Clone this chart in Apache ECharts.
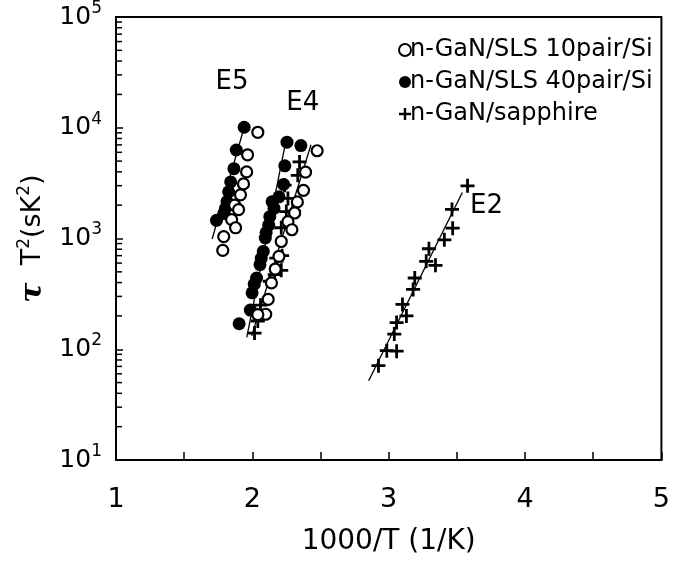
<!DOCTYPE html>
<html>
<head>
<meta charset="utf-8">
<script src="https://cdn.jsdelivr.net/npm/echarts@6/dist/echarts.min.js"></script>
<style>
  html, body { margin: 0; padding: 0; background: #fff; }
  #main { width: 673px; height: 565px; }
</style>
</head>
<body>
<div id="main"></div>
<script>
// data: [1000/T, tau*T^2]
const open10pair = [
  [2.04, 9100], [1.965, 5700], [1.958, 3990], [1.935, 3110], [1.913, 2480],
  [1.87, 2000], [1.899, 1820], [1.848, 1480], [1.877, 1250], [1.79, 1040], [1.783, 780],
  [2.475, 6200], [2.39, 3970], [2.375, 2720], [2.33, 2140], [2.31, 1700],
  [2.261, 1420], [2.29, 1200], [2.212, 940], [2.195, 690], [2.168, 530],
  [2.14, 397], [2.116, 282], [2.098, 207], [2.04, 205]
];
const filled40pair = [
  [1.94, 10100], [1.882, 6300], [1.865, 4270], [1.841, 3240], [1.826, 2640],
  [1.814, 2150], [1.802, 1860], [1.79, 1680], [1.737, 1460],
  [2.254, 7410], [2.356, 6900], [2.238, 4530], [2.229, 3080], [2.195, 2380],
  [2.145, 2150], [2.159, 1870], [2.128, 1575], [2.12, 1320], [2.101, 1130],
  [2.095, 1010], [2.08, 764], [2.065, 662], [2.056, 581], [2.031, 440],
  [2.014, 387], [1.998, 323], [1.985, 226], [1.903, 170]
];
const sapphire = [
  [2.016, 140], [2.04, 180], [2.06, 250], [2.128, 411], [2.164, 472],
  [2.212, 516], [2.176, 665], [2.218, 700], [2.212, 1250], [2.249, 1750],
  [2.306, 1770], [2.261, 2300], [2.237, 3030], [2.333, 3720], [2.346, 4910],
  [3.578, 2990], [3.464, 1830], [3.469, 1240], [3.408, 972], [3.295, 808],
  [3.275, 622], [3.343, 573], [3.191, 440], [3.179, 347], [3.101, 254],
  [3.13, 200], [3.058, 174], [3.041, 137], [2.986, 97], [3.058, 96], [2.925, 71]
];
const fitLines = [
  [[1.705, 990], [1.94, 10100]],
  [[1.959, 128], [2.249, 7950]],
  [[1.995, 132], [2.43, 7020]],
  [[2.853, 52], [3.54, 2600]]
];
const peakNames = ['E5', 'E4', 'E2'];
const peakLabelPos = [[1.851, 25600], [2.37, 16600], [3.717, 1940]];
const seriesNames = ['n-GaN/SLS 10pair/Si', 'n-GaN/SLS 40pair/Si', 'n-GaN/sapphire'];

const FONT = 'DejaVu Sans';
const plusPath = 'path://M4,0h2v4h4v2h-4v4h-2v-4h-4v-2h4z';

// minor log ticks on the left axis (2..9 of each decade)
const minorTicks = [];
for (let k = 1; k < 5; k++) {
  for (let m = 2; m < 10; m++) minorTicks.push([1, m * Math.pow(10, k)]);
}

const chart = echarts.init(document.getElementById('main'));

const series = [
  {
    name: 'minorTicks', type: 'scatter', silent: true, data: minorTicks,
    symbol: 'rect', symbolSize: [6, 1.5], symbolOffset: [3, 0],
    itemStyle: { color: '#000', opacity: 1 }, z: 1
  }
];
fitLines.forEach((pts, i) => {
  series.push({
    name: 'fit' + i, type: 'line', data: pts, symbol: 'none', silent: true,
    lineStyle: { color: '#000', width: 1.3 }, z: 2
  });
});
series.push(
  {
    name: seriesNames[2], type: 'scatter', data: sapphire,
    symbol: plusPath, symbolSize: 14, itemStyle: { color: '#000', opacity: 1 }, z: 3
  },
  {
    name: seriesNames[1], type: 'scatter', data: filled40pair,
    symbol: 'circle', symbolSize: 13, itemStyle: { color: '#000', opacity: 1 }, z: 4
  },
  {
    name: seriesNames[0], type: 'scatter', data: open10pair,
    symbol: 'circle', symbolSize: 11,
    itemStyle: { color: '#fff', borderColor: '#000', borderWidth: 2.2, opacity: 1 }, z: 5
  },
  {
    name: 'peaks', type: 'scatter', silent: true, symbolSize: 0,
    itemStyle: { opacity: 1 },
    data: peakLabelPos.map((p, i) => ({ value: p, name: peakNames[i] })),
    label: {
      show: true, position: 'inside', formatter: '{b}',
      fontFamily: FONT, fontSize: 26, color: '#000'
    }, z: 6
  }
);

chart.setOption({
  backgroundColor: '#fff',
  animation: false,
  textStyle: { fontFamily: FONT },
  grid: {
    left: 116, right: 5, top: 14, bottom: 105,
    show: true, borderColor: '#000', borderWidth: 2
  },
  legend: {
    data: seriesNames,
    orient: 'vertical', left: 393, top: 33,
    itemWidth: 12, itemHeight: 12, itemGap: 8,
    textStyle: { fontFamily: FONT, fontSize: 24, color: '#000', padding: [0, 0, 0, -6] }
  },
  xAxis: {
    type: 'value', min: 1, max: 5, interval: 0.5,
    name: '1000/T (1/K)', nameLocation: 'middle', nameGap: 68,
    nameTextStyle: { fontFamily: FONT, fontSize: 28, color: '#000' },
    axisLine: { lineStyle: { color: '#000', width: 2 } },
    axisTick: { inside: true, length: 8, lineStyle: { color: '#000', width: 1.5 } },
    axisLabel: {
      margin: 26, fontFamily: FONT, fontSize: 27, color: '#000',
      formatter: v => (Number.isInteger(v) ? String(v) : '')
    },
    splitLine: { show: false }
  },
  yAxis: {
    type: 'log', logBase: 10, min: 10, max: 100000,
    name: '{tau|τ}{t|  T}{s|2}{t|(sK}{s|2}{t|)}',
    nameLocation: 'middle', nameGap: 56,
    nameTextStyle: {
      color: '#000',
      rich: {
        tau: { fontFamily: 'DejaVu Serif', fontSize: 30, fontWeight: 'bold', fontStyle: 'italic' },
        t: { fontFamily: FONT, fontSize: 27 },
        s: { fontFamily: FONT, fontSize: 17, padding: [0, 0, 18, 0] }
      }
    },
    axisLine: { lineStyle: { color: '#000', width: 2 } },
    axisTick: { inside: true, length: 7, lineStyle: { color: '#000', width: 1.5 } },
    axisLabel: {
      margin: 14, color: '#000',
      formatter: v => '{b|10}{s|' + Math.round(Math.log10(v)) + '}',
      rich: {
        b: { fontFamily: FONT, fontSize: 25 },
        s: { fontFamily: FONT, fontSize: 17, padding: [0, 0, 17, 0] }
      }
    },
    splitLine: { show: false }
  },
  series
});
</script>
</body>
</html>
